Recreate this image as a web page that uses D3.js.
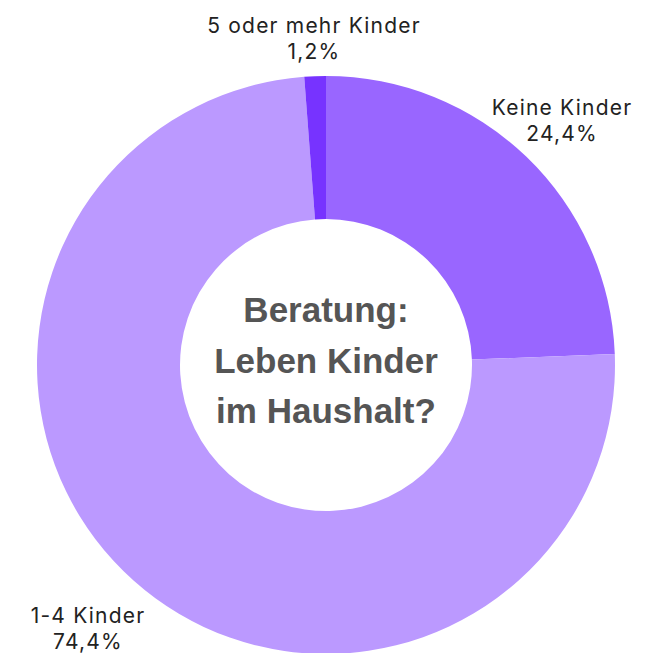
<!DOCTYPE html>
<html>
<head>
<meta charset="utf-8">
<script src="https://cdn.jsdelivr.net/npm/d3@7"></script>
<style>
  body { margin: 0; background: #fff; }
  svg { display: block; }
</style>
</head>
<body>
<div class="container"></div>
<script>
var categories = ["Keine Kinder", "1-4 Kinder", "5 oder mehr Kinder"];
var values = [24.4, 74.4, 1.2];
var labels = ["24,4%", "74,4%", "1,2%"];
var colors = ["#9966ff", "#bb99ff", "#7733ff"];
var titleLines = ["Beratung:", "Leben Kinder", "im Haushalt?"];

var loadChart = function () {
    const WIDTH = 649;
    const HEIGHT = 653;
    const CX = 326, CY = 365;
    const OUTER = 289, INNER = 146;

    var svg = d3.select('.container').append('svg')
        .attr('width', WIDTH)
        .attr('height', HEIGHT);

    var data = categories.map(function (c, i) {
        return {name: c, value: values[i], label: labels[i], color: colors[i]};
    });

    var pie = d3.pie().sort(null).value(function (d) { return d.value; });
    var arc = d3.arc().innerRadius(INNER).outerRadius(OUTER);

    var g = svg.append('g').attr('transform', 'translate(' + CX + ',' + CY + ')');

    g.selectAll('path')
        .data(pie(data))
        .enter().append('path')
        .attr('d', arc)
        .attr('fill', function (d) { return d.data.color; });

    // label positions (outside the ring)
    var labelPos = {
        "Keine Kinder": [562, 115],
        "1-4 Kinder": [88, 623],
        "5 oder mehr Kinder": [314, 33]
    };

    data.forEach(function (d) {
        var p = labelPos[d.name];
        var t = svg.append('text')
            .attr('x', p[0])
            .attr('y', p[1])
            .attr('text-anchor', 'middle')
            .style('font-family', 'Inter, "Open Sans", sans-serif')
            .style('font-size', '21px')
            .style('letter-spacing', '1.2px')
            .style('fill', '#222');
        t.append('tspan').attr('x', p[0]).text(d.name);
        t.append('tspan').attr('x', p[0]).attr('dy', 26).text(d.label);
    });

    var title = svg.append('text')
        .attr('text-anchor', 'middle')
        .style('font-family', '"Liberation Sans", Arial, sans-serif')
        .style('font-weight', 'bold')
        .style('font-size', '35px')
        .style('fill', '#555');
    titleLines.forEach(function (l, i) {
        title.append('tspan')
            .attr('x', CX)
            .attr('y', 322 + i * 50.5)
            .text(l);
    });
};

window.onload = loadChart;
</script>
</body>
</html>
